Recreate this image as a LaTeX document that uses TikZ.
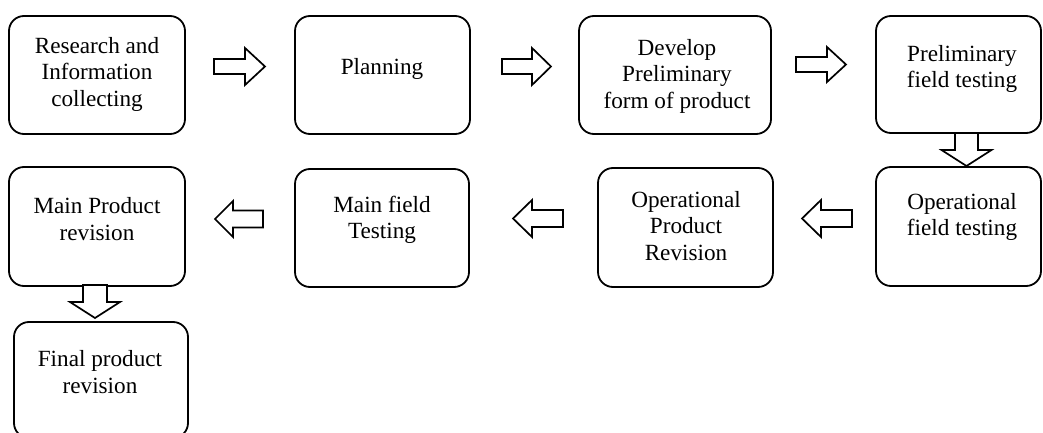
\documentclass[tikz,border=0pt]{standalone}
\usepackage{fontspec}
\setmainfont{Liberation Serif}
\begin{document}
\begin{tikzpicture}[x=1pt,y=-1pt,
  box/.style={draw=black,line width=1.8pt,rounded corners=15pt,inner sep=0pt},
  txt/.style={align=center,font=\fontsize{23.2}{26.5}\selectfont,inner sep=0pt},
  blk/.style={draw=black,line width=1.7pt,fill=white,line join=miter}]
\clip (0,0) rectangle (1043,433);
% boxes
\newcommand\mkbox[5]{\node[box,minimum width=#4-#2,minimum height=#5-#3] (#1) at ({(#2+#4)/2},{(#3+#5)/2}) {};}
\mkbox{b1}{9}{16}{185}{134}
\mkbox{b2}{295}{16}{470}{134}
\mkbox{b3}{579}{16}{771}{134}
\mkbox{b4}{876}{16}{1041}{133}
\mkbox{b5}{876}{167}{1041}{286}
\mkbox{b6}{598}{168}{773}{287}
\mkbox{b7}{295}{169}{469}{287}
\mkbox{b8}{9}{167}{185}{286}
\mkbox{b9}{14}{322}{188}{438}
% texts
\node[txt] (t1) at (97,74) {Research and\\Information\\collecting};
\node[txt] (t2) at (382,69) {Planning};
\node[txt] (t3) at (677,76) {Develop\\Preliminary\\form of product};
\node[txt] (t4) at (962,69) {Preliminary\\field testing};
\node[txt] (t5) at (962,217) {Operational\\field testing};
\node[txt] (t6) at (686,226) {Operational\\Product\\Revision};
\node[txt] (t7) at (382,220) {Main field\\Testing};
\node[txt] (t8) at (97,219) {Main Product\\revision};
\node[txt] (t9) at (100,372) {Final product\\revision};
% block arrows: #1 start coordinate, #2 angle, #3 length, #4 head length, #5 shaft width, #6 head width
\newcommand\blkarrow[6]{\draw[blk,shift={(#1)},rotate=#2] (0,{-#5/2}) -- ({#3-#4},{-#5/2}) -- ({#3-#4},{-#6/2}) -- (#3,0) -- ({#3-#4},{#6/2}) -- ({#3-#4},{#5/2}) -- (0,{#5/2}) -- cycle;}
\coordinate (a1) at (214,66.5);
\coordinate (a2) at (502,66.5);
\coordinate (a3) at (796,64.5);
\coordinate (d1) at (966.5,133);
\coordinate (l1) at (852,218.5);
\coordinate (l2) at (563,218.5);
\coordinate (l3) at (263,219);
\coordinate (d2) at (95,285);
\blkarrow{a1}{0}{51}{20}{15}{37}
\blkarrow{a2}{0}{49}{19}{15}{37}
\blkarrow{a3}{0}{50}{19}{15}{35}
\blkarrow{l1}{180}{50}{19}{17}{37}
\blkarrow{l2}{180}{50}{19}{17}{37}
\blkarrow{l3}{180}{48}{18}{17}{36}
\blkarrow{d1}{-90}{33}{16}{23}{50}
\blkarrow{d2}{-90}{33}{16}{24}{50}
\end{tikzpicture}
\end{document}
